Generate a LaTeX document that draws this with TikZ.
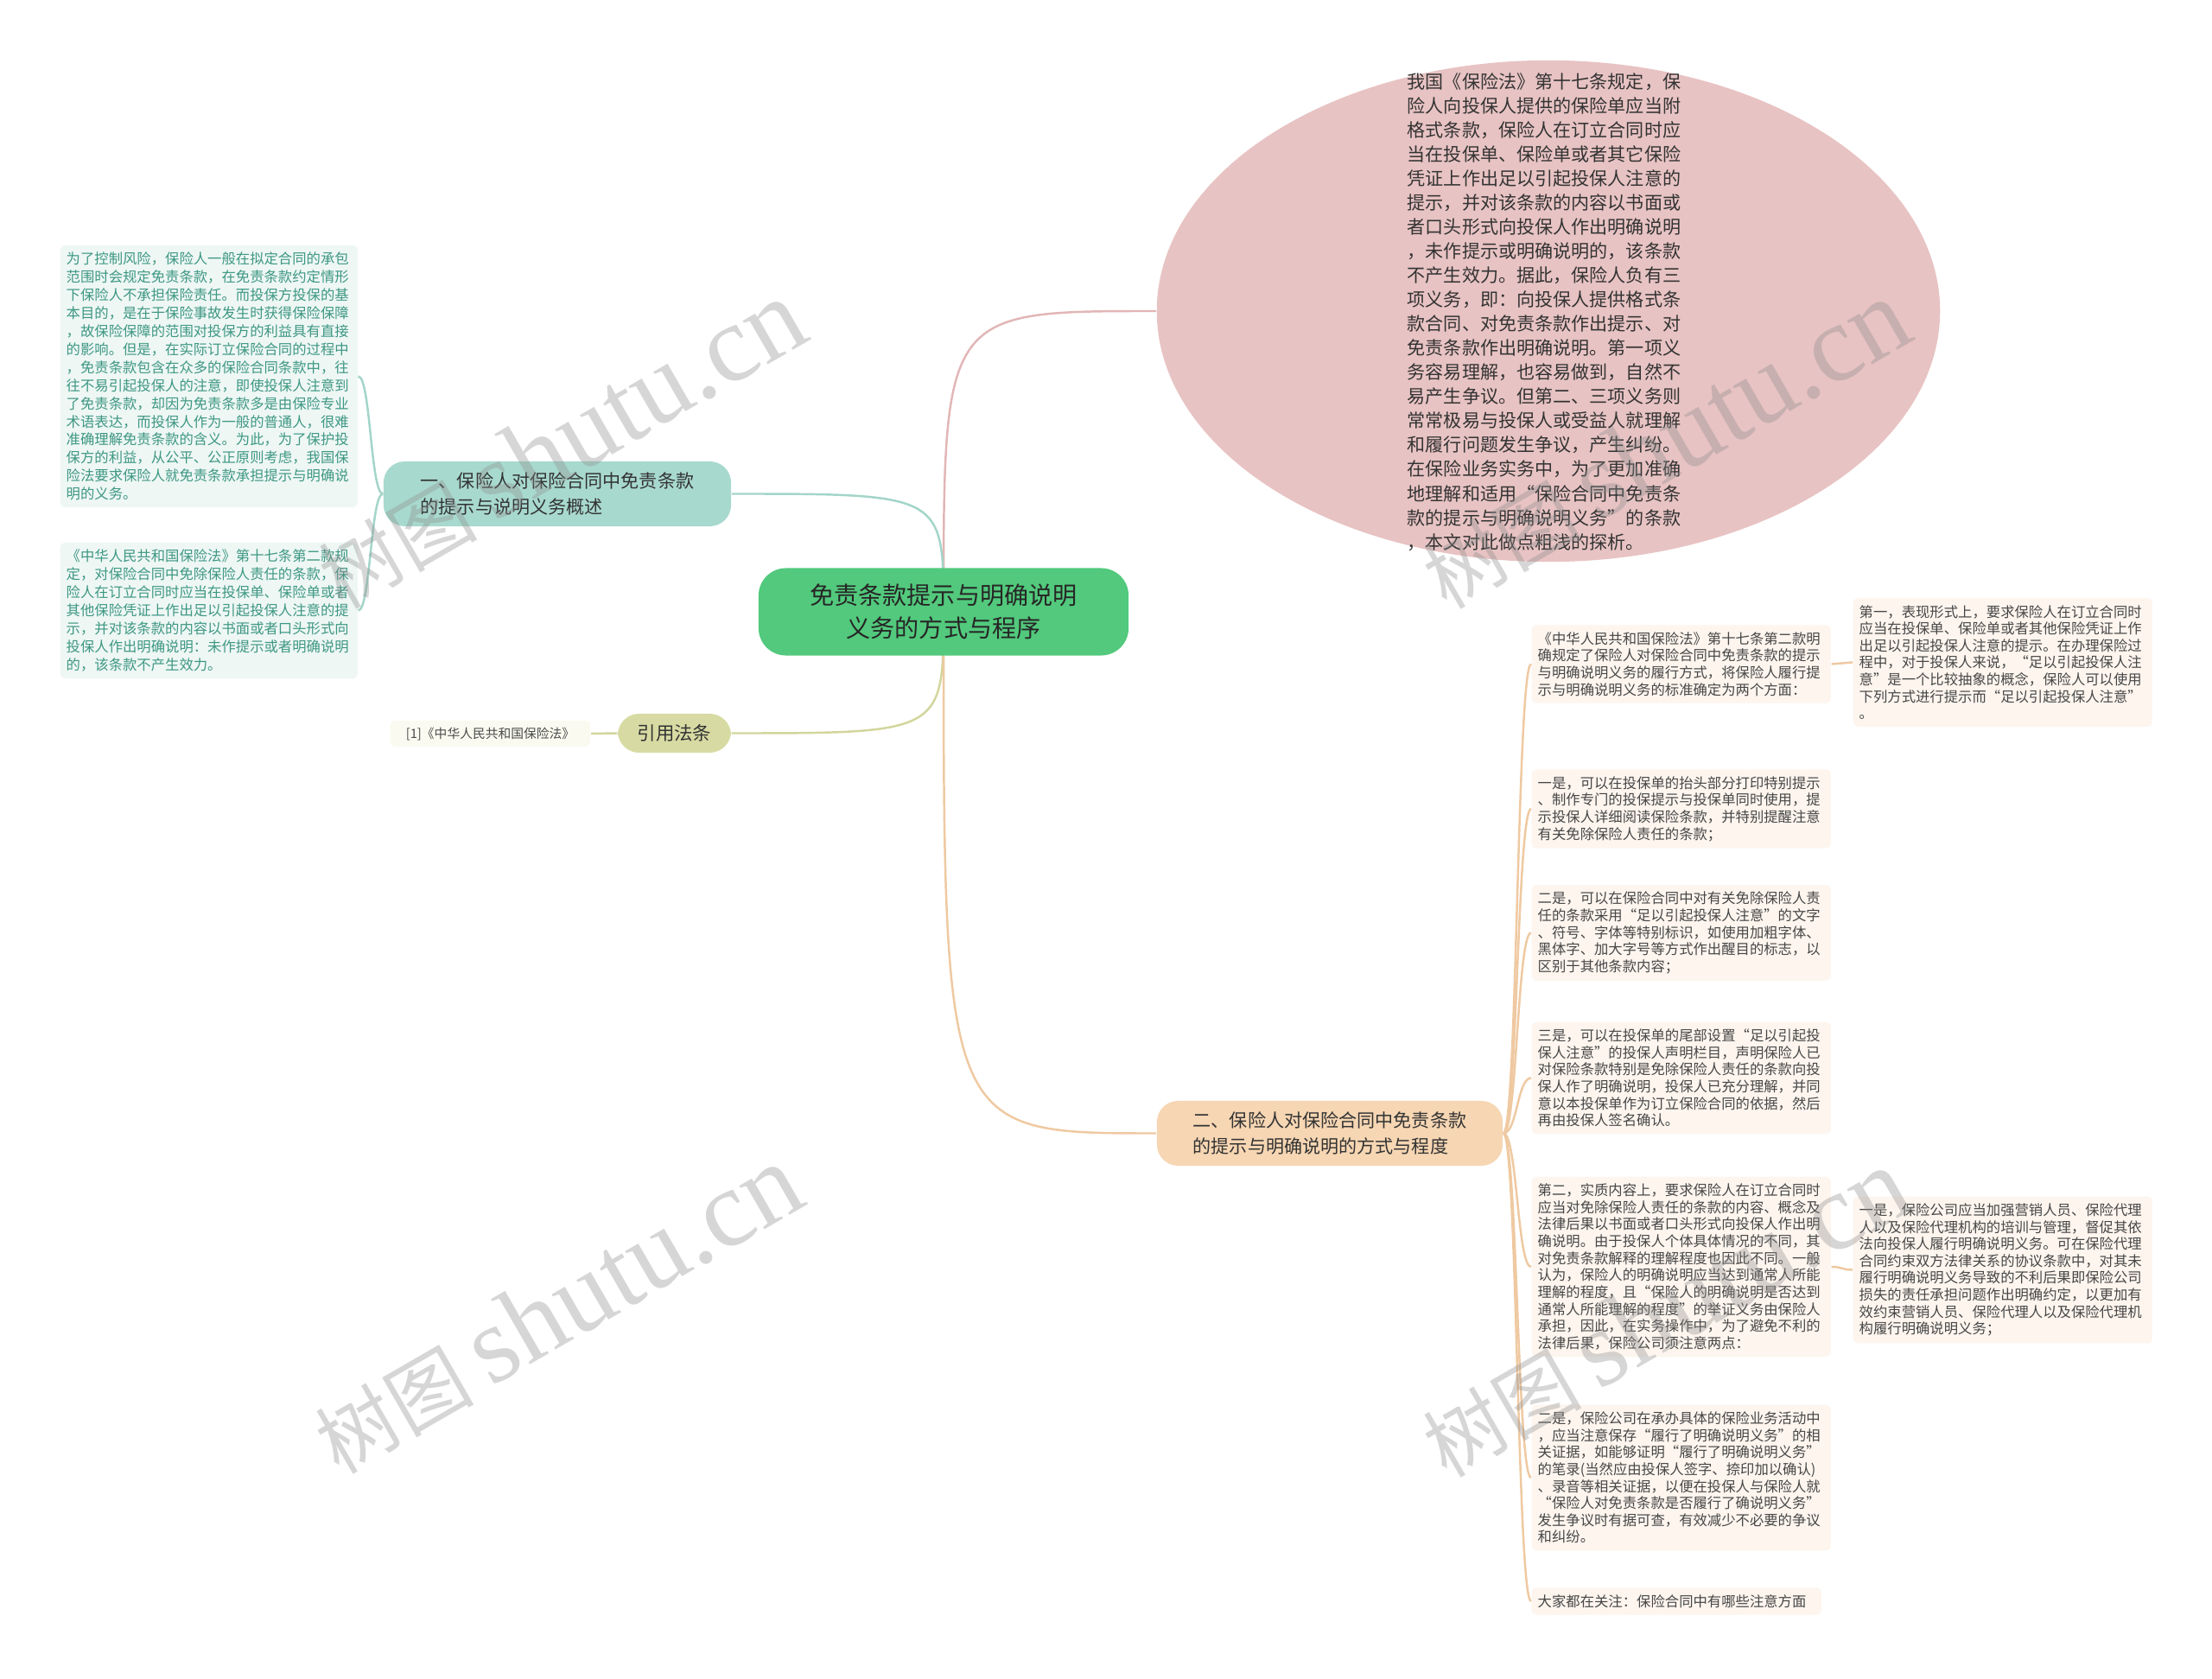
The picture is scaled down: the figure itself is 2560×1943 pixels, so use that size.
\documentclass[tikz,border=0pt]{standalone}
\usepackage{fontspec}
\setmainfont{Noto Sans CJK SC}
\newfontfamily\wmlatin{Liberation Serif}
\usetikzlibrary{shapes.geometric,calc,backgrounds}

\definecolor{rootgreen}{HTML}{52C97C}
\definecolor{ellpink}{HTML}{E8C3C3}
\definecolor{tealmain}{HTML}{A8D9CE}
\definecolor{tealpale}{HTML}{EEF7F4}
\definecolor{tealtext}{HTML}{3E9783}
\definecolor{olivemain}{HTML}{D7DBA3}
\definecolor{olivepale}{HTML}{FAFAF0}
\definecolor{peachmain}{HTML}{F6D6B3}
\definecolor{peachpale}{HTML}{FDF5EE}
\definecolor{pinkline}{HTML}{E2B6B6}
\definecolor{tealline}{HTML}{A3D5C9}
\definecolor{oliveline}{HTML}{D2D69C}
\definecolor{tanline}{HTML}{EFC9A1}

\tikzset{
  rootnode/.style={rectangle, rounded corners=9pt, fill=rootgreen, text=black!85,
    align=center, minimum width=4.28cm, minimum height=1.01cm, inner sep=0pt,
    font=\fontsize{8}{10.7}\selectfont},
  ellbg/.style={ellipse, fill=ellpink, minimum width=9.06cm, minimum height=5.8cm, inner sep=0pt},
  elltext/.style={align=left, inner sep=0pt, text=black!80, font=\fontsize{6}{7.97}\selectfont},
  branchnode/.style={rectangle, rounded corners=7pt, align=left, text=black!80,
    minimum height=0.75cm, inner sep=0pt, font=\fontsize{6}{8.3}\selectfont},
  notel/.style={rectangle, rounded corners=1.5pt, fill=tealpale, text=tealtext, align=left,
    text width=3.30cm, inner xsep=0.07cm, inner ysep=0.08cm, font=\fontsize{4.65}{5.95}\selectfont},
  noter/.style={rectangle, rounded corners=1.5pt, fill=peachpale, text=black!72, align=left,
    text width=3.32cm, inner xsep=0.07cm, inner ysep=0.08cm, font=\fontsize{4.65}{5.58}\selectfont},
  link/.style={line width=0.7pt},
  wmark/.style={rotate=30, text=black!45, opacity=0.35, inner sep=0pt}
}

% bracket link between two side anchors
\newcommand{\mmlink}[3]{%
  \draw[#1] (#2) .. controls ($(#2)!0.5!(#2 -| #3)$) and ($(#3)!0.5!(#3 -| #2)$) .. (#3);}
% link from the central topic
\newcommand{\rootlink}[2]{%
  \draw[#1] (root.center) .. controls (root.center |- #2) .. (#2);}

\begin{document}
\begin{tikzpicture}[x=0.01cm, y=-0.01cm]
\useasboundingbox (0,0) rectangle (2560,1943);

% central topic
\node[rootnode] (root) at (1092,708) {免责条款提示与明确说明\\义务的方式与程序};

% summary ellipse
\node[ellbg] (ell) at (1792,360) {};
\node[elltext] (elltxt) at (1787,361) {我国《保险法》第十七条规定，保\\险人向投保人提供的保险单应当附\\格式条款，保险人在订立合同时应\\当在投保单、保险单或者其它保险\\凭证上作出足以引起投保人注意的\\提示，并对该条款的内容以书面或\\者口头形式向投保人作出明确说明\\，未作提示或明确说明的，该条款\\不产生效力。据此，保险人负有三\\项义务，即：向投保人提供格式条\\款合同、对免责条款作出提示、对\\免责条款作出明确说明。第一项义\\务容易理解，也容易做到，自然不\\易产生争议。但第二、三项义务则\\常常极易与投保人或受益人就理解\\和履行问题发生争议，产生纠纷。\\在保险业务实务中，为了更加准确\\地理解和适用“保险合同中免责条\\款的提示与明确说明义务”的条款\\，本文对此做点粗浅的探析。};

% left branch: overview
\node[branchnode, fill=tealmain, minimum width=4.02cm] (b1) at (645,571.5) {一、保险人对保险合同中免责条款\\的提示与说明义务概述};
\node[notel, anchor=west] (lb1) at (69,435.5) {为了控制风险，保险人一般在拟定合同的承包\\范围时会规定免责条款，在免责条款约定情形\\下保险人不承担保险责任。而投保方投保的基\\本目的，是在于保险事故发生时获得保险保障\\，故保险保障的范围对投保方的利益具有直接\\的影响。但是，在实际订立保险合同的过程中\\，免责条款包含在众多的保险合同条款中，往\\往不易引起投保人的注意，即使投保人注意到\\了免责条款，却因为免责条款多是由保险专业\\术语表达，而投保人作为一般的普通人，很难\\准确理解免责条款的含义。为此，为了保护投\\保方的利益，从公平、公正原则考虑，我国保\\险法要求保险人就免责条款承担提示与明确说\\明的义务。};
\node[notel, anchor=west] (lb2) at (69,706.5) {《中华人民共和国保险法》第十七条第二款规\\定，对保险合同中免除保险人责任的条款，保\\险人在订立合同时应当在投保单、保险单或者\\其他保险凭证上作出足以引起投保人注意的提\\示，并对该条款的内容以书面或者口头形式向\\投保人作出明确说明：未作提示或者明确说明\\的，该条款不产生效力。};

% left branch: cited law
\node[branchnode, fill=olivemain, align=center, minimum width=1.31cm, minimum height=0.45cm,
  font=\fontsize{6.1}{7}\selectfont] (quote) at (780.5,848.5) {引用法条};
\node[rectangle, rounded corners=1.5pt, fill=olivepale, text=black!70, minimum width=2.31cm,
  minimum height=0.30cm, inner sep=0pt, font=\fontsize{4.2}{5}\selectfont] (qc) at (567.5,849) {[1]《中华人民共和国保险法》};

% right branch: ways and degree
\node[branchnode, fill=peachmain, minimum width=4.0cm] (b2) at (1539,1311.5) {二、保险人对保险合同中免责条款\\的提示与明确说明的方式与程度};
\node[noter, anchor=west] (ra) at (1772,768.5) {《中华人民共和国保险法》第十七条第二款明\\确规定了保险人对保险合同中免责条款的提示\\与明确说明义务的履行方式，将保险人履行提\\示与明确说明义务的标准确定为两个方面：};
\node[noter, anchor=west] (raa) at (2144,766.5) {第一，表现形式上，要求保险人在订立合同时\\应当在投保单、保险单或者其他保险凭证上作\\出足以引起投保人注意的提示。在办理保险过\\程中，对于投保人来说，“足以引起投保人注\\意”是一个比较抽象的概念，保险人可以使用\\下列方式进行提示而“足以引起投保人注意”\\。};
\node[noter, anchor=west] (rb) at (1772,936) {一是，可以在投保单的抬头部分打印特别提示\\、制作专门的投保提示与投保单同时使用，提\\示投保人详细阅读保险条款，并特别提醒注意\\有关免除保险人责任的条款；};
\node[noter, anchor=west] (rc) at (1772,1079.5) {二是，可以在保险合同中对有关免除保险人责\\任的条款采用“足以引起投保人注意”的文字\\、符号、字体等特别标识，如使用加粗字体、\\黑体字、加大字号等方式作出醒目的标志，以\\区别于其他条款内容；};
\node[noter, anchor=west] (rd) at (1772,1247.5) {三是，可以在投保单的尾部设置“足以引起投\\保人注意”的投保人声明栏目，声明保险人已\\对保险条款特别是免除保险人责任的条款向投\\保人作了明确说明，投保人已充分理解，并同\\意以本投保单作为订立保险合同的依据，然后\\再由投保人签名确认。};
\node[noter, anchor=west] (re) at (1772,1466) {第二，实质内容上，要求保险人在订立合同时\\应当对免除保险人责任的条款的内容、概念及\\法律后果以书面或者口头形式向投保人作出明\\确说明。由于投保人个体具体情况的不同，其\\对免责条款解释的理解程度也因此不同。一般\\认为，保险人的明确说明应当达到通常人所能\\理解的程度，且“保险人的明确说明是否达到\\通常人所能理解的程度”的举证义务由保险人\\承担，因此，在实务操作中，为了避免不利的\\法律后果，保险公司须注意两点：};
\node[noter, anchor=west] (ree) at (2144,1469.5) {一是，保险公司应当加强营销人员、保险代理\\人以及保险代理机构的培训与管理，督促其依\\法向投保人履行明确说明义务。可在保险代理\\合同约束双方法律关系的协议条款中，对其未\\履行明确说明义务导致的不利后果即保险公司\\损失的责任承担问题作出明确约定，以更加有\\效约束营销人员、保险代理人以及保险代理机\\构履行明确说明义务；};
\node[noter, anchor=west] (rf) at (1772,1710) {二是，保险公司在承办具体的保险业务活动中\\，应当注意保存“履行了明确说明义务”的相\\关证据，如能够证明“履行了明确说明义务”\\的笔录(当然应由投保人签字、捺印加以确认)\\、录音等相关证据，以便在投保人与保险人就\\“保险人对免责条款是否履行了确说明义务”\\发生争议时有据可查，有效减少不必要的争议\\和纠纷。};
\node[noter, anchor=west, text width=3.21cm] (rg) at (1772,1853) {大家都在关注：保险合同中有哪些注意方面};

% connectors
\begin{scope}[on background layer]
  \fill[white] (0,0) rectangle (2560,1943);
  \rootlink{link, pinkline}{ell.west}
  \rootlink{link, tealline}{b1.east}
  \rootlink{link, oliveline}{quote.east}
  \rootlink{link, tanline}{b2.west}
  \mmlink{link, tealline}{b1.west}{lb1.east}
  \mmlink{link, tealline}{b1.west}{lb2.east}
  \mmlink{link, oliveline}{quote.west}{qc.east}
  \foreach \c in {ra,rb,rc,rd,re,rf,rg} {
    \mmlink{link, tanline}{b2.east}{\c.west}
  }
  \mmlink{link, tanline}{ra.east}{raa.west}
  \mmlink{link, tanline}{re.east}{ree.west}
\end{scope}

% watermarks
\foreach \wx/\wy [count=\i] in {649/514, 1927/514, 645/1515, 1927/1519} {
  \node[wmark] (wm\i) at (\wx,\wy) {\fontsize{26}{30}\selectfont 树图 {\wmlatin\fontsize{36}{40}\selectfont shutu.cn}};
}
\end{tikzpicture}
\end{document}
